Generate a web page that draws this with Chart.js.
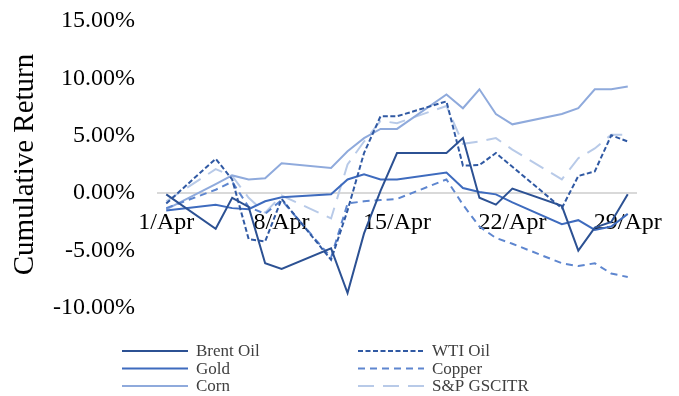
<!DOCTYPE html>
<html>
<head>
<meta charset="utf-8">
<script src="https://cdn.jsdelivr.net/npm/chart.js@4.4.1/dist/chart.umd.min.js"></script>
<style>
  html, body { margin: 0; padding: 0; background: #ffffff; }
  #wrap { width: 679px; height: 396px; }
</style>
</head>
<body>
<div id="wrap"><canvas id="c" width="679" height="396"></canvas></div>
<script>
// Trading days of April (day of month)
const days = [1, 4, 5, 6, 7, 8, 11, 12, 13, 14, 15, 18, 19, 20, 21, 22, 25, 26, 27, 28, 29];

// Cumulative return, in percent
const brentOil = [-0.1, -3.1, -0.4, -1.2, -6.1, -6.6, -4.8, -8.7, -3.5, 0.2, 3.5, 3.5, 4.8, -0.4, -1.0, 0.4, -1.1, -5.0, -3.0, -2.5, -0.1];
const wtiOil   = [-0.9, 3.0, 1.2, -4.0, -4.2, -0.5, -5.8, -1.5, 3.5, 6.7, 6.7, 8.0, 2.4, 2.45, 3.5, 2.3, -1.3, 1.5, 1.9, 5.05, 4.5];
const gold     = [-1.5, -1.0, -1.3, -1.4, -0.7, -0.35, -0.1, 1.2, 1.65, 1.2, 1.2, 1.8, 0.45, 0.1, -0.1, -0.8, -2.7, -2.35, -3.2, -2.9, -1.8];
const copper   = [-1.3, 0.3, 1.0, -1.2, -1.8, -0.6, -5.6, -0.9, -0.7, -0.6, -0.5, 1.2, -1.0, -2.9, -3.9, -4.4, -6.1, -6.35, -6.1, -7.0, -7.3];
const corn     = [-1.4, 0.8, 1.55, 1.2, 1.3, 2.6, 2.2, 3.65, 4.8, 5.6, 5.6, 8.6, 7.4, 9.05, 6.9, 6.0, 6.9, 7.4, 9.05, 9.05, 9.3];
const spGsci   = [-0.7, 2.1, 1.5, -0.4, -1.7, -0.2, -2.2, 2.5, 4.5, 6.3, 6.1, 7.6, 4.3, 4.5, 4.8, 3.8, 1.2, 3.05, 3.9, 5.1, 5.1];

// Axis ticks
const xTickDays = [1, 8, 15, 22, 29];
const xTickMonth = 'Apr';
const yTicks = [-10, -5, 0, 5, 10, 15];

const serif = "'Liberation Serif', 'Times New Roman', serif";

function series(label, values, color, dash) {
  return {
    label: label,
    data: days.map((d, i) => ({ x: d, y: values[i] })),
    borderColor: color,
    backgroundColor: color,
    borderWidth: 2,
    borderDash: dash,
    pointRadius: 0,
    pointHoverRadius: 0,
    tension: 0,
    fill: false
  };
}

// Two-column legend under the plot, laid out row by row
const gridLegend = {
  id: 'gridLegend',
  afterDraw(chart) {
    const ctx = chart.ctx;
    const cols = [122, 358];
    const rows = [351, 368.5, 386];
    const lineLen = 66;
    ctx.save();
    ctx.font = '17px ' + serif;
    ctx.textBaseline = 'middle';
    ctx.textAlign = 'left';
    chart.data.datasets.forEach((ds, i) => {
      const x = cols[i % 2];
      const y = rows[Math.floor(i / 2)];
      ctx.beginPath();
      ctx.setLineDash(ds.borderDash || []);
      ctx.strokeStyle = ds.borderColor;
      ctx.lineWidth = ds.borderWidth;
      ctx.moveTo(x, y);
      ctx.lineTo(x + lineLen, y);
      ctx.stroke();
      ctx.setLineDash([]);
      ctx.fillStyle = '#404040';
      ctx.fillText(ds.label, x + lineLen + 8, y + 1);
    });
    ctx.restore();
  }
};

new Chart(document.getElementById('c'), {
  type: 'line',
  data: {
    datasets: [
      series('Brent Oil', brentOil, '#2C5193', []),
      series('WTI Oil', wtiOil, '#3059A3', [5, 2.5]),
      series('Gold', gold, '#3E6BBE', []),
      series('Copper', copper, '#5E86CF', [7, 5]),
      series('Corn', corn, '#8FAADC', []),
      series('S&P GSCITR', spGsci, '#B8CAE8', [16, 9])
    ]
  },
  options: {
    responsive: false,
    animation: false,
    devicePixelRatio: 1,
    layout: { autoPadding: false, padding: { top: 21, right: 43, bottom: 88, left: 0 } },
    plugins: {
      legend: { display: false },
      tooltip: { enabled: false }
    },
    scales: {
      x: {
        type: 'linear',
        position: { y: 0 },
        min: 0.5,
        max: 29.5,
        afterBuildTicks(scale) {
          scale.ticks = xTickDays.map(v => ({ value: v }));
        },
        grid: { display: false, drawTicks: false },
        border: { display: true, color: '#D9D9D9', width: 2 },
        ticks: {
          autoSkip: false,
          maxRotation: 0,
          padding: 15,
          color: '#000000',
          font: { family: serif, size: 24 },
          callback: v => v + '/' + xTickMonth
        }
      },
      y: {
        min: -10,
        max: 15,
        afterBuildTicks(scale) {
          scale.ticks = yTicks.map(v => ({ value: v }));
        },
        afterFit(scale) {
          scale.width = 158;
          scale.paddingTop = 0;
          scale.paddingBottom = 0;
        },
        grid: { display: false, drawTicks: false },
        border: { display: false },
        ticks: {
          padding: 23,
          color: '#000000',
          font: { family: serif, size: 24 },
          callback: v => v.toFixed(2) + '%'
        },
        title: {
          display: true,
          text: 'Cumulative Return',
          color: '#000000',
          font: { family: serif, size: 29 },
          padding: { top: 8, bottom: 0 }
        }
      }
    }
  },
  plugins: [gridLegend]
});
</script>
</body>
</html>
